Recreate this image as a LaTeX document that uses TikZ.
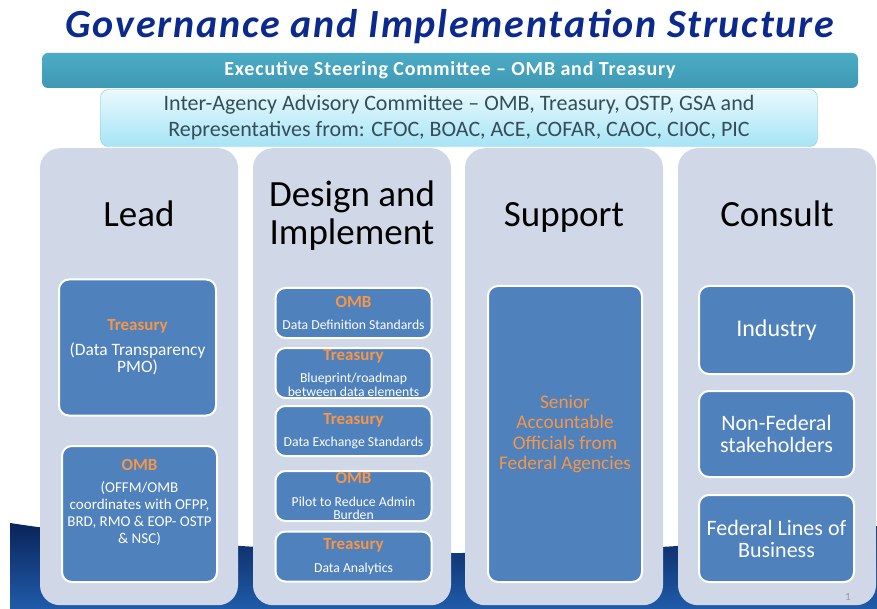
\documentclass[tikz,border=0pt]{standalone}
\usepackage{fontspec}
\setmainfont{Carlito}
\usetikzlibrary{positioning}

\definecolor{titleblue}{RGB}{12,42,142}
\definecolor{steerteal}{RGB}{75,172,198}
\definecolor{steerdark}{RGB}{62,152,180}
\definecolor{advtop}{RGB}{234,249,253}
\definecolor{advbottom}{RGB}{166,228,246}
\definecolor{advline}{RGB}{130,200,222}
\definecolor{advtext}{RGB}{52,78,88}
\definecolor{colfill}{RGB}{208,216,232}
\definecolor{boxblue}{RGB}{79,129,189}
\definecolor{orghl}{RGB}{247,150,70}
\definecolor{wavetop}{RGB}{10,36,90}
\definecolor{wavebottom}{RGB}{32,92,170}

\newcommand{\orghead}[2][17]{{\fontsize{#1}{14}\selectfont\bfseries\color{orghl}#2}}

\begin{document}
\begin{tikzpicture}[x=1pt, y=-1pt,
    colbox/.style={fill=colfill, rounded corners=20pt, minimum width=198pt,
      minimum height=457pt, anchor=north, inner sep=0pt},
    heading/.style={font=\fontsize{37}{38}\selectfont, align=center, anchor=base},
    bluebox/.style={fill=boxblue, draw=white, line width=2pt, rounded corners=10pt,
      text=white, align=center, inner sep=0pt, minimum width=155pt}
  ]
  \useasboundingbox (0,0) rectangle (877,609);
  \fill[white] (0,0) rectangle (877,609);
  % dark wave behind the columns
  \shade[top color=wavetop, bottom color=wavebottom]
    (10,609) -- (10,523) .. controls (120,540) and (300,553) .. (457,553)
    .. controls (640,553) and (800,538) .. (877,526) -- (877,609) -- cycle;

  % columns
  \foreach \i/\xc/\hy/\ttl in {1/139/227/Lead, 2/352/245/{Design and\\Implement},
      3/564/227/Support, 4/777/227/Consult} {
    \node[colbox] (col\i) at (\xc,148) {};
    \node[heading] (head\i) at (\xc,\hy) {\ttl};
  }

  % title and committees
  \node[font=\fontsize{40}{42}\selectfont\bfseries\itshape\addfontfeature{LetterSpace=4.5},
    text=titleblue, anchor=base]
    (title) at (450,38) {Governance and Implementation Structure};
  \node[top color=steerteal, bottom color=steerdark, rounded corners=6pt,
    minimum width=816pt, minimum height=35pt, inner sep=0pt, text=white,
    font=\fontsize{20}{22}\selectfont\bfseries\addfontfeature{LetterSpace=4}]
    (steer) at (450,70.5) {Executive Steering Committee – OMB and Treasury};
  \node[top color=advtop, bottom color=advbottom, draw=advline, rounded corners=8pt,
    minimum width=717pt, minimum height=57pt, inner sep=0pt, text=advtext, align=center,
    font=\fontsize{22}{26}\selectfont]
    (advisory) at (459,118) {Inter-Agency Advisory Committee – OMB, Treasury, OSTP, GSA and\\
      Representatives from: CFOC, BOAC, ACE, COFAR, CAOC, CIOC, PIC};

  % lead
  \node[bluebox, minimum width=157pt, minimum height=136pt, font=\fontsize{17.4}{17.5}\selectfont]
    (lead1) at (137.5,347.5) {\orghead{Treasury}\\[7pt](Data Transparency\\PMO)};
  \node[bluebox, minimum height=136pt] (lead2) at (139.5,514) {};
  \node[below=14pt of lead2.north, text=white, align=center, inner sep=0pt,
    font=\fontsize{15}{17}\selectfont]
    (lead2txt) {\orghead{OMB}\\[5pt](OFFM/OMB\\coordinates with OFPP,\\BRD, RMO \& EOP- OSTP\\\& NSC)};

  % design and implement
  \foreach \i/\yc/\org/\task in {1/313/OMB/{Data Definition Standards},
      2/373/Treasury/{Blueprint/roadmap\\between data elements},
      3/431/Treasury/{Data Exchange Standards},
      4/496/OMB/{Pilot to Reduce Admin\\Burden},
      5/556.5/Treasury/{Data Analytics}} {
    \node[bluebox, minimum width=156pt, minimum height=50pt, font=\fontsize{13.7}{13.5}\selectfont]
      (des\i) at (353.5,\yc) {\orghead{\org}\\[9pt]\task};
  }

  % support
  \node[bluebox, minimum width=154pt, minimum height=296pt, text=orghl,
    font=\fontsize{19.3}{20.5}\selectfont]
    (senior) at (565,434) {Senior\\Accountable\\Officials from\\Federal Agencies};

  % consult
  \foreach \i/\yc/\bh/\fs/\txt in {1/330/88/24/Industry, 2/434/86/22/{Non-Federal\\stakeholders},
      3/538.5/87/22/{Federal Lines of\\Business}} {
    \node[bluebox, minimum height=\bh pt, font=\fontsize{\fs}{22}\selectfont]
      (con\i) at (776.5,\yc) {\txt};
  }

  \node[text=gray!80, font=\fontsize{11}{12}\selectfont] (pagenum) at (848,597) {1};
\end{tikzpicture}
\end{document}
